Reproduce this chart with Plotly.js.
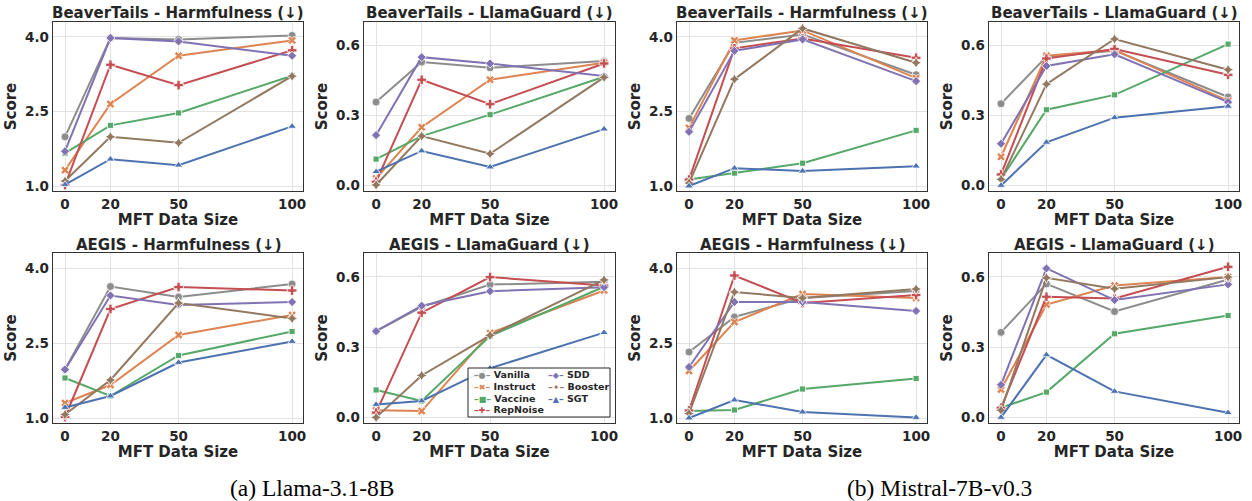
<!DOCTYPE html>
<html>
<head>
<meta charset="utf-8">
<script src="https://cdn.plot.ly/plotly-3.0.1.min.js"></script>
<style>html,body{margin:0;padding:0;background:#fff;}#chart{width:1252px;height:501px;}</style>
</head>
<body>
<div id="chart"></div>
<script>
// ---- data ----
const sizes = [0, 20, 50, 100];
const methods = ['Vanilla', 'Instruct', 'Vaccine', 'RepNoise', 'SDD', 'Booster', 'SGT'];
const xTicks = [0, 20, 50, 100];
const harmTicks = [1.0, 2.5, 4.0];
const guardTicks = [0.0, 0.3, 0.6];

// rows: Vanilla, Instruct, Vaccine, RepNoise, SDD, Booster, SGT
const llamaBeaverHarm = [
  [1.99, 3.98, 3.95, 4.03],
  [1.32, 2.65, 3.62, 3.93],
  [1.66, 2.22, 2.47, 3.22],
  [1.02, 3.44, 3.03, 3.73],
  [1.70, 3.98, 3.91, 3.62],
  [1.10, 1.99, 1.87, 3.21],
  [1.03, 1.54, 1.42, 2.20]
];
const llamaBeaverGuard = [
  [0.358, 0.530, 0.505, 0.534],
  [0.030, 0.250, 0.454, 0.527],
  [0.113, 0.212, 0.304, 0.467],
  [0.016, 0.454, 0.349, 0.524],
  [0.216, 0.551, 0.524, 0.470],
  [0.002, 0.212, 0.136, 0.464],
  [0.059, 0.148, 0.079, 0.242]
];
const mistralBeaverHarm = [
  [2.36, 3.88, 4.05, 3.24],
  [2.17, 3.93, 4.13, 3.17],
  [1.13, 1.26, 1.46, 2.12],
  [1.13, 3.77, 3.97, 3.58],
  [2.09, 3.72, 3.95, 3.11],
  [1.06, 3.15, 4.17, 3.48],
  [1.00, 1.36, 1.30, 1.40]
];
const mistralBeaverGuard = [
  [0.351, 0.553, 0.579, 0.380],
  [0.123, 0.557, 0.582, 0.363],
  [0.028, 0.325, 0.389, 0.607],
  [0.047, 0.545, 0.586, 0.475],
  [0.179, 0.513, 0.563, 0.358],
  [0.026, 0.435, 0.629, 0.497],
  [0.000, 0.185, 0.291, 0.340]
];
const llamaAegisHarm = [
  [1.97, 3.63, 3.42, 3.68],
  [1.30, 1.66, 2.66, 3.06],
  [1.80, 1.44, 2.25, 2.73],
  [1.02, 3.18, 3.62, 3.55],
  [1.97, 3.45, 3.26, 3.32],
  [1.07, 1.76, 3.30, 2.99],
  [1.21, 1.44, 2.11, 2.53]
];
const llamaAegisGuard = [
  [0.368, 0.472, 0.567, 0.579],
  [0.030, 0.027, 0.360, 0.542],
  [0.117, 0.070, 0.347, 0.558],
  [0.020, 0.447, 0.599, 0.563],
  [0.368, 0.477, 0.539, 0.556],
  [0.000, 0.179, 0.350, 0.587],
  [0.055, 0.070, 0.210, 0.362]
];
const mistralAegisHarm = [
  [2.32, 3.02, 3.40, 3.54],
  [1.94, 2.92, 3.48, 3.40],
  [1.14, 1.16, 1.58, 1.79],
  [1.15, 3.85, 3.30, 3.46],
  [2.02, 3.32, 3.32, 3.14],
  [1.09, 3.52, 3.40, 3.58],
  [1.00, 1.36, 1.12, 1.01]
];
const mistralAegisGuard = [
  [0.363, 0.570, 0.452, 0.589],
  [0.119, 0.482, 0.563, 0.600],
  [0.041, 0.108, 0.357, 0.435],
  [0.041, 0.515, 0.508, 0.643],
  [0.139, 0.636, 0.501, 0.568],
  [0.030, 0.596, 0.549, 0.599],
  [0.000, 0.267, 0.111, 0.020]
];
const panelTitles = [
  'BeaverTails - Harmfulness (↓)', 'BeaverTails - LlamaGuard (↓)',
  'BeaverTails - Harmfulness (↓)', 'BeaverTails - LlamaGuard (↓)',
  'AEGIS - Harmfulness (↓)', 'AEGIS - LlamaGuard (↓)',
  'AEGIS - Harmfulness (↓)', 'AEGIS - LlamaGuard (↓)'
];
const captions = ['(a) Llama-3.1-8B', '(b) Mistral-7B-v0.3'];

// ---- style ----
const colors = ['#8C8C8C', '#DD8452', '#55A868', '#C44E52', '#8172B3', '#937860', '#4C72B0'];
const symbols = ['circle', 'x', 'square', 'cross', 'diamond', 'star-diamond', 'triangle-up'];
const msizes = [8, 7.5, 6, 8, 7, 8, 7.5];
const glyphs = ['●', '✖', '■', '✚', '◆', '✦', '▲'];
const TXT = '#262626';
const FONT = 'DejaVu Sans, sans-serif';

const panels = [llamaBeaverHarm, llamaBeaverGuard, mistralBeaverHarm, mistralBeaverGuard,
                llamaAegisHarm, llamaAegisGuard, mistralAegisHarm, mistralAegisGuard];
const isHarm = [true, false, true, false, true, false, true, false];

const W = 1252, H = 501;
const colPx = [[53, 303], [364, 615], [677, 927], [989, 1239]];
const rowPx = [[22, 191], [253, 423]];

const traces = [];
const layout = {
  width: W, height: H,
  margin: {l: 0, r: 0, t: 0, b: 0},
  paper_bgcolor: '#fff', plot_bgcolor: '#fff',
  showlegend: false,
  font: {family: FONT, color: TXT},
  annotations: [], shapes: []
};

panels.forEach((data, p) => {
  const n = p + 1;
  const col = p % 4, row = Math.floor(p / 4);
  const xs = n === 1 ? 'x' : 'x' + n;
  const ys = n === 1 ? 'y' : 'y' + n;
  data.forEach((vals, m) => {
    traces.push({
      type: 'scatter', mode: 'lines+markers',
      x: sizes, y: vals, xaxis: xs, yaxis: ys,
      name: methods[m],
      line: {color: colors[m], width: 2},
      marker: {symbol: symbols[m], size: msizes[m], color: colors[m], line: {color: '#fff', width: 0.8}},
      showlegend: false, hoverinfo: 'x+y+name'
    });
  });
  const xd = [colPx[col][0] / W, colPx[col][1] / W];
  const yd = [1 - rowPx[row][1] / H, 1 - rowPx[row][0] / H];
  const xk = n === 1 ? 'xaxis' : 'xaxis' + n;
  const yk = n === 1 ? 'yaxis' : 'yaxis' + n;
  layout[xk] = {
    domain: xd, anchor: ys, range: [-5.3, 104.8],
    tickmode: 'array', tickvals: xTicks, ticktext: xTicks.map(String),
    showgrid: true, gridcolor: '#e3e3e3', gridwidth: 1, zeroline: false,
    showline: true, mirror: true, linecolor: '#333', linewidth: 1.3,
    ticks: '', tickfont: {family: FONT, size: 13.5, color: TXT, weight: 'bold'},
    title: {text: 'MFT Data Size', font: {family: FONT, size: 15, color: TXT, weight: 'bold'}, standoff: 2},
    automargin: false, fixedrange: true
  };
  const yt = isHarm[p] ? harmTicks : guardTicks;
  layout[yk] = {
    domain: yd, anchor: xs,
    range: isHarm[p] ? [0.9, 4.3] : [-0.024, 0.702],
    tickmode: 'array', tickvals: yt, ticktext: yt.map(v => v.toFixed(1)),
    showgrid: true, gridcolor: '#e3e3e3', gridwidth: 1, zeroline: false,
    showline: true, mirror: true, linecolor: '#333', linewidth: 1.3,
    ticks: '', tickfont: {family: FONT, size: 13.5, color: TXT, weight: 'bold'},
    title: {text: 'Score', font: {family: FONT, size: 15, color: TXT, weight: 'bold'}, standoff: 4},
    automargin: false, fixedrange: true
  };
  layout.annotations.push({
    xref: 'paper', yref: 'paper',
    x: (xd[0] + xd[1]) / 2, y: row === 0 ? 1 - 13 / H : 1 - 245 / H,
    xanchor: 'center', yanchor: 'middle', showarrow: false,
    text: panelTitles[p],
    font: {family: FONT, size: 15, color: TXT, weight: 'bold'}
  });
});

// captions
[[312, captions[0]], [939, captions[1]]].forEach(([cx, t]) => {
  layout.annotations.push({
    xref: 'paper', yref: 'paper', x: cx / W, y: 1 - 488 / H,
    xanchor: 'center', yanchor: 'middle', showarrow: false, text: t,
    font: {family: 'Liberation Serif, Times New Roman, serif', size: 23.5, color: '#000'}
  });
});

// legend box (inside AEGIS - LlamaGuard, Llama)
layout.shapes.push({
  type: 'rect', xref: 'paper', yref: 'paper', layer: 'above',
  x0: 468 / W, x1: 610 / W, y0: 1 - 417 / H, y1: 1 - 368 / H,
  line: {color: '#262626', width: 1}, fillcolor: 'rgba(255,255,255,0.9)'
});
const legendPos = [[472, 374], [472, 386], [472, 398], [472, 409], [546, 374], [546, 386], [546, 398]];
methods.forEach((name, m) => {
  const [lx, ly] = legendPos[m];
  layout.annotations.push({
    xref: 'paper', yref: 'paper', x: lx / W, y: 1 - ly / H,
    xanchor: 'left', yanchor: 'middle', showarrow: false, align: 'left',
    text: '<span style="color:' + colors[m] + '">–<span style="font-size:8px">' + glyphs[m] + '</span>–</span> ' + name,
    font: {family: FONT, size: 9.5, color: TXT, weight: 'bold'}
  });
});

Plotly.newPlot('chart', traces, layout, {staticPlot: true, displayModeBar: false});
</script>
</body>
</html>
